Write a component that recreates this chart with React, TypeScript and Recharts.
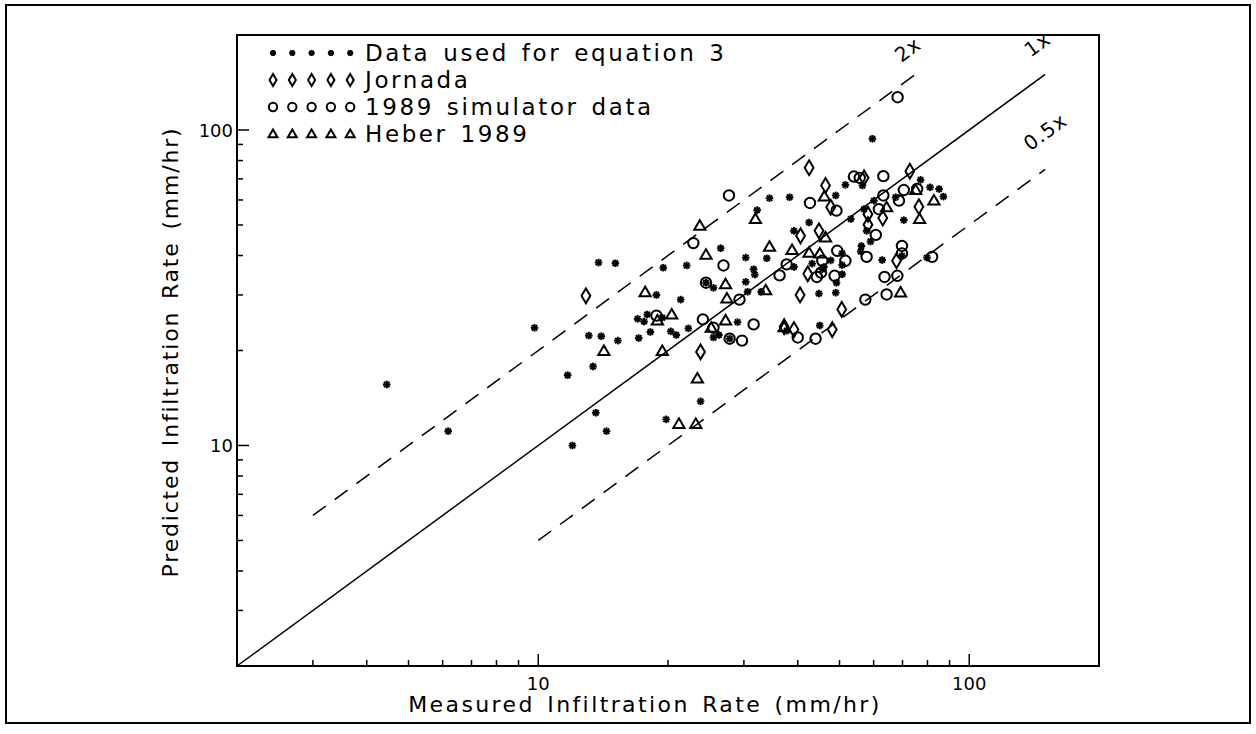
import React from "react";
import {
  ReferenceArea,
  ReferenceDot,
  ReferenceLine,
  Scatter,
  ScatterChart,
  XAxis,
  YAxis,
} from "recharts";

type Pt = { x: number; y: number };

// Data used for equation 3 (measured, predicted)
const eq3Points: Pt[] = [
  { x: 4.45, y: 15.6 }, { x: 6.18, y: 11.1 }, { x: 9.8, y: 23.6 }, { x: 34.4, y: 60.8 },
  { x: 38.3, y: 61.2 }, { x: 32.2, y: 55.7 }, { x: 26.5, y: 42.2 }, { x: 30.3, y: 39.4 },
  { x: 33.9, y: 39.2 }, { x: 13.8, y: 38.0 }, { x: 15.1, y: 37.8 }, { x: 19.5, y: 36.6 },
  { x: 22.1, y: 37.2 }, { x: 31.6, y: 36.2 }, { x: 31.8, y: 34.8 }, { x: 30.3, y: 33.0 },
  { x: 24.5, y: 32.8 }, { x: 25.5, y: 31.6 }, { x: 30.6, y: 30.7 }, { x: 32.9, y: 30.7 },
  { x: 18.8, y: 30.0 }, { x: 21.4, y: 29.0 }, { x: 17.0, y: 25.2 }, { x: 17.9, y: 26.0 },
  { x: 17.6, y: 24.7 }, { x: 19.4, y: 25.4 }, { x: 29.0, y: 24.6 }, { x: 22.3, y: 23.5 },
  { x: 18.2, y: 22.9 }, { x: 20.3, y: 23.0 }, { x: 20.9, y: 22.4 }, { x: 25.5, y: 22.0 },
  { x: 26.25, y: 22.4 }, { x: 27.8, y: 21.8 }, { x: 13.1, y: 22.3 }, { x: 14.0, y: 22.2 },
  { x: 15.3, y: 21.5 }, { x: 17.1, y: 21.9 }, { x: 11.7, y: 16.7 }, { x: 13.4, y: 17.8 },
  { x: 23.8, y: 13.8 }, { x: 13.6, y: 12.7 }, { x: 14.4, y: 11.1 }, { x: 19.8, y: 12.1 },
  { x: 12.0, y: 10.0 }, { x: 59.6, y: 93.8 }, { x: 56.5, y: 66.7 }, { x: 77.1, y: 69.5 },
  { x: 81.1, y: 65.8 }, { x: 85.1, y: 65.0 }, { x: 87.1, y: 61.5 }, { x: 51.6, y: 67.0 },
  { x: 49.0, y: 62.0 }, { x: 57.0, y: 56.1 }, { x: 60.1, y: 59.7 }, { x: 67.5, y: 61.2 },
  { x: 70.5, y: 51.8 }, { x: 53.1, y: 52.2 }, { x: 42.5, y: 50.9 }, { x: 39.2, y: 47.9 },
  { x: 59.0, y: 44.3 }, { x: 57.8, y: 47.9 }, { x: 50.7, y: 40.6 }, { x: 56.2, y: 42.9 },
  { x: 56.0, y: 41.2 }, { x: 69.8, y: 39.9 }, { x: 62.8, y: 38.7 }, { x: 79.8, y: 39.4 },
  { x: 39.2, y: 36.8 }, { x: 43.2, y: 37.7 }, { x: 47.7, y: 38.6 }, { x: 50.7, y: 37.3 },
  { x: 45.6, y: 36.2 }, { x: 46.0, y: 36.8 }, { x: 50.7, y: 34.9 }, { x: 49.2, y: 32.8 },
  { x: 49.0, y: 30.5 }, { x: 44.8, y: 30.3 }, { x: 37.7, y: 23.1 }, { x: 45.0, y: 24.0 },
];

const jornadaPoints: Pt[] = [
  { x: 12.9, y: 29.8 }, { x: 23.8, y: 19.8 }, { x: 37.2, y: 23.8 }, { x: 42.5, y: 75.9 },
  { x: 57.0, y: 70.5 }, { x: 72.8, y: 74.0 }, { x: 46.4, y: 66.7 }, { x: 47.7, y: 56.9 },
  { x: 58.2, y: 54.1 }, { x: 63.0, y: 52.6 }, { x: 76.4, y: 57.1 }, { x: 58.2, y: 50.1 },
  { x: 40.6, y: 46.2 }, { x: 44.8, y: 47.9 }, { x: 67.8, y: 38.5 }, { x: 42.2, y: 35.0 },
  { x: 40.5, y: 30.0 }, { x: 50.6, y: 27.0 }, { x: 39.2, y: 23.3 }, { x: 48.1, y: 23.3 },
];

const simulatorPoints: Pt[] = [
  { x: 68.2, y: 127 }, { x: 27.7, y: 62.0 }, { x: 22.9, y: 43.8 }, { x: 26.9, y: 37.2 },
  { x: 36.3, y: 34.6 }, { x: 37.7, y: 37.5 }, { x: 24.5, y: 32.8 }, { x: 29.3, y: 29.0 },
  { x: 18.8, y: 25.8 }, { x: 24.1, y: 25.1 }, { x: 31.6, y: 24.2 }, { x: 25.5, y: 23.6 },
  { x: 27.8, y: 21.8 }, { x: 29.7, y: 21.5 }, { x: 54.0, y: 71.2 }, { x: 55.7, y: 70.5 },
  { x: 63.2, y: 71.4 }, { x: 70.5, y: 64.5 }, { x: 75.7, y: 65.0 }, { x: 42.7, y: 58.7 },
  { x: 49.2, y: 55.5 }, { x: 63.2, y: 62.0 }, { x: 61.7, y: 56.1 }, { x: 68.7, y: 59.7 },
  { x: 60.7, y: 46.5 }, { x: 49.4, y: 41.4 }, { x: 57.8, y: 39.6 }, { x: 69.8, y: 42.9 },
  { x: 69.8, y: 40.6 }, { x: 82.0, y: 39.6 }, { x: 45.6, y: 38.5 }, { x: 51.6, y: 38.5 },
  { x: 44.3, y: 34.2 }, { x: 45.3, y: 35.3 }, { x: 48.7, y: 34.5 }, { x: 63.6, y: 34.2 },
  { x: 68.1, y: 34.5 }, { x: 57.4, y: 29.0 }, { x: 64.3, y: 30.1 }, { x: 40.0, y: 22.0 },
  { x: 44.0, y: 21.8 },
];

const heberPoints: Pt[] = [
  { x: 31.9, y: 52.2 }, { x: 23.7, y: 49.7 }, { x: 34.4, y: 42.6 }, { x: 24.5, y: 40.2 },
  { x: 27.2, y: 32.4 }, { x: 33.7, y: 31.0 }, { x: 17.7, y: 30.6 }, { x: 27.4, y: 29.2 },
  { x: 18.9, y: 24.9 }, { x: 20.4, y: 26.0 }, { x: 27.2, y: 24.9 }, { x: 25.2, y: 23.6 },
  { x: 14.2, y: 19.9 }, { x: 19.4, y: 19.9 }, { x: 23.4, y: 16.3 }, { x: 21.2, y: 11.7 },
  { x: 23.2, y: 11.7 }, { x: 38.8, y: 41.6 }, { x: 42.5, y: 40.8 }, { x: 45.0, y: 40.6 },
  { x: 46.1, y: 61.5 }, { x: 46.4, y: 45.6 }, { x: 64.3, y: 56.9 }, { x: 75.1, y: 64.5 },
  { x: 82.8, y: 59.7 }, { x: 76.7, y: 52.2 }, { x: 69.3, y: 30.5 }, { x: 37.2, y: 23.7 },
];

const xTicks = [3, 4, 5, 6, 7, 8, 9, 10, 20, 30, 40, 50, 60, 70, 80, 90, 100];
const yTicks = [3, 4, 5, 6, 7, 8, 9, 10, 20, 30, 40, 50, 60, 70, 80, 90, 100];
const labelledTicks = [10, 100];

// ratio lines: [start, end] in measured units
const oneToOne = [2, 150];
const twoToOne = [3, 75];
const halfToOne = [10, 150];

const legendItems = [
  { kind: "star", label: "Data used for equation 3" },
  { kind: "diamond", label: "Jornada" },
  { kind: "circle", label: "1989 simulator data" },
  { kind: "triangle", label: "Heber 1989" },
];

const FONT = "'DejaVu Sans', sans-serif";

function Marker({ kind, cx, cy, s = 1 }: { kind: string; cx: number; cy: number; s?: number }) {
  if (kind === "star") {
    const r = 3.8 * s;
    const d = r * 0.72;
    return (
      <g stroke="#000" strokeWidth={2}>
        <line x1={cx - r} y1={cy} x2={cx + r} y2={cy} />
        <line x1={cx} y1={cy - r} x2={cx} y2={cy + r} />
        <line x1={cx - d} y1={cy - d} x2={cx + d} y2={cy + d} />
        <line x1={cx - d} y1={cy + d} x2={cx + d} y2={cy - d} />
      </g>
    );
  }
  if (kind === "diamond") {
    const w = 4.4 * s;
    const h = 7.4 * s;
    return (
      <polygon
        points={`${cx},${cy - h} ${cx + w},${cy} ${cx},${cy + h} ${cx - w},${cy}`}
        fill="none"
        stroke="#000"
        strokeWidth={2}
      />
    );
  }
  if (kind === "circle") {
    return <circle cx={cx} cy={cy} r={5.2 * s} fill="none" stroke="#000" strokeWidth={2} />;
  }
  const t = 5.6 * s;
  return (
    <polygon
      points={`${cx},${cy - t} ${cx + t},${cy + t * 0.7} ${cx - t},${cy + t * 0.7}`}
      fill="none"
      stroke="#000"
      strokeWidth={2}
    />
  );
}

const shapeFor = (kind: string) => (p: any) => <Marker kind={kind} cx={p.cx} cy={p.cy} />;

function XTick(props: any) {
  const { x, y, payload } = props;
  const major = labelledTicks.includes(payload.value);
  return (
    <g>
      <line x1={x} y1={y} x2={x} y2={y - (major ? 12 : 6)} stroke="#000" strokeWidth={1.5} />
      {major && (
        <text x={x} y={y + 24} textAnchor="middle" fontSize={18} fontFamily={FONT}>
          {payload.value}
        </text>
      )}
    </g>
  );
}

function YTick(props: any) {
  const { x, y, payload } = props;
  const major = labelledTicks.includes(payload.value);
  return (
    <g>
      <line x1={x} y1={y} x2={x + (major ? 12 : 6)} y2={y} stroke="#000" strokeWidth={1.5} />
      {major && (
        <text x={x - 4} y={y + 7} textAnchor="end" fontSize={18} fontFamily={FONT}>
          {payload.value}
        </text>
      )}
    </g>
  );
}

const rotatedLabel = (text: string) => (p: any) => (
  <text
    x={p.cx}
    y={p.cy}
    textAnchor="middle"
    dominantBaseline="central"
    fontSize={20}
    fontFamily={FONT}
    letterSpacing={1}
    transform={`rotate(-36 ${p.cx} ${p.cy})`}
  >
    {text}
  </text>
);

function LegendBox({ left, top }: { left: number; top: number }) {
  return (
    <g>
      {legendItems.map((item, i) => {
        const cy = top + i * 27;
        return (
          <g key={item.label}>
            {[0, 1, 2, 3, 4].map((k) => (
              <Marker key={k} kind={item.kind} cx={left + k * 19.3} cy={cy} s={0.8} />
            ))}
            <text x={left + 92} y={cy + 8} fontSize={23} fontFamily={FONT} letterSpacing={2.6} wordSpacing={3}>
              {item.label}
            </text>
          </g>
        );
      })}
    </g>
  );
}

export default function App() {
  return (
    <div style={{ position: "absolute", left: 0, top: 0, width: 1256, height: 734, background: "#fff" }}>
      <div
        style={{
          position: "absolute",
          left: 5,
          top: 4,
          width: 1242,
          height: 716,
          border: "2px solid #000",
        }}
      />
      <div style={{ position: "absolute", left: 0, top: 0 }}>
        <ScatterChart width={1256} height={734} margin={{ top: 35, left: 236, right: 157, bottom: 67 }}>
          <XAxis
            type="number"
            dataKey="x"
            scale="log"
            domain={[2, 200]}
            ticks={xTicks}
            interval={0}
            height={1}
            tickSize={0}
            tickMargin={0}
            tickLine={false}
            tick={<XTick />}
            axisLine={{ stroke: "#000", strokeWidth: 2 }}
            allowDataOverflow
          />
          <YAxis
            type="number"
            dataKey="y"
            scale="log"
            domain={[2, 200]}
            ticks={yTicks}
            interval={0}
            width={1}
            tickSize={0}
            tickMargin={0}
            tickLine={false}
            tick={<YTick />}
            axisLine={{ stroke: "#000", strokeWidth: 2 }}
            allowDataOverflow
          />
          <ReferenceArea x1={2} x2={200} y1={2} y2={200} fill="none" stroke="#000" strokeWidth={2} />
          <ReferenceLine
            segment={[{ x: oneToOne[0], y: oneToOne[0] }, { x: oneToOne[1], y: oneToOne[1] }]}
            stroke="#000"
            strokeWidth={1.5}
          />
          <ReferenceLine
            segment={[{ x: twoToOne[0], y: twoToOne[0] * 2 }, { x: twoToOne[1], y: twoToOne[1] * 2 }]}
            stroke="#000"
            strokeWidth={1.5}
            strokeDasharray="16 11"
          />
          <ReferenceLine
            segment={[{ x: halfToOne[0], y: halfToOne[0] / 2 }, { x: halfToOne[1], y: halfToOne[1] / 2 }]}
            stroke="#000"
            strokeWidth={1.5}
            strokeDasharray="16 11"
          />
          <ReferenceDot x={72} y={180} r={0} shape={rotatedLabel("2x")} />
          <ReferenceDot x={144} y={187} r={0} shape={rotatedLabel("1x")} />
          <ReferenceDot x={150} y={98.6} r={0} shape={rotatedLabel("0.5x")} />
          <Scatter name="eq3" data={eq3Points} shape={shapeFor("star")} isAnimationActive={false} />
          <Scatter name="jornada" data={jornadaPoints} shape={shapeFor("diamond")} isAnimationActive={false} />
          <Scatter name="sim" data={simulatorPoints} shape={shapeFor("circle")} isAnimationActive={false} />
          <Scatter name="heber" data={heberPoints} shape={shapeFor("triangle")} isAnimationActive={false} />
          <LegendBox left={273} top={53} />
          <text
            x={645}
            y={712}
            textAnchor="middle"
            fontSize={22}
            fontFamily={FONT}
            letterSpacing={2.4}
            wordSpacing={3}
          >
            Measured Infiltration Rate (mm/hr)
          </text>
          <text
            x={178}
            y={352}
            textAnchor="middle"
            fontSize={22}
            fontFamily={FONT}
            letterSpacing={1.8}
            wordSpacing={3}
            transform="rotate(-90 178 352)"
          >
            Predicted Infiltration Rate (mm/hr)
          </text>
        </ScatterChart>
      </div>
    </div>
  );
}
